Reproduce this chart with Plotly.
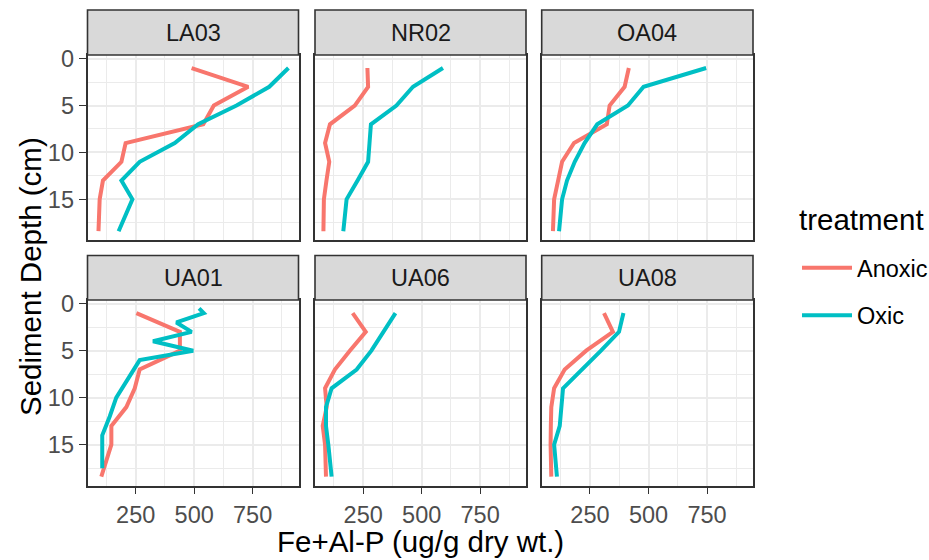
import plotly.graph_objects as go

# ---------------- data ----------------
sites = ["LA03", "NR02", "OA04", "UA01", "UA06", "UA08"]
treatments = ["Anoxic", "Oxic"]
colors = {"Anoxic": "#F8766D", "Oxic": "#00BFC4"}

depth_std = [1, 3, 5, 7, 9, 11, 13, 15, 18.4]
depth_ua01_oxic = [0.5, 1, 2, 3, 4, 5, 6, 8, 10, 12, 14, 17.5]

la03_anoxic = [489, 731, 584, 539, 207, 189, 110, 96, 91]
la03_oxic = [903, 821, 681, 517, 417, 267, 189, 236, 177]
nr02_anoxic = [268, 271, 214, 108, 87, 105, 93, 82, 80]
nr02_oxic = [591, 463, 392, 283, 277, 271, 226, 179, 165]
oa04_anoxic = [416, 398, 334, 322, 182, 131, 114, 97, 92]
oa04_oxic = [746, 479, 412, 281, 227, 185, 152, 131, 118]
ua01_anoxic = [253, 439, 439, 267, 246, 210, 146, 146, 103]
ua01_oxic = [521, 541, 424, 489, 324, 496, 267, 217, 167, 139, 107, 107]
ua06_anoxic = [205, 261, 193, 129, 87, 94, 77, 87, 91]
ua06_oxic = [388, 335, 285, 222, 115, 91, 91, 101, 115]
ua08_anoxic = [310, 348, 234, 142, 97, 85, 83, 82, 85]
ua08_oxic = [393, 374, 297, 214, 135, 128, 121, 97, 109]

series = {
    "LA03": {"Anoxic": (depth_std, la03_anoxic), "Oxic": (depth_std, la03_oxic)},
    "NR02": {"Anoxic": (depth_std, nr02_anoxic), "Oxic": (depth_std, nr02_oxic)},
    "OA04": {"Anoxic": (depth_std, oa04_anoxic), "Oxic": (depth_std, oa04_oxic)},
    "UA01": {"Anoxic": (depth_std, ua01_anoxic), "Oxic": (depth_ua01_oxic, ua01_oxic)},
    "UA06": {"Anoxic": (depth_std, ua06_anoxic), "Oxic": (depth_std, ua06_oxic)},
    "UA08": {"Anoxic": (depth_std, ua08_anoxic), "Oxic": (depth_std, ua08_oxic)},
}

x_ticks = [250, 500, 750]
x_minor = [125, 375, 625, 875]
y_ticks = [0, 5, 10, 15]
y_minor = [2.5, 7.5, 12.5, 17.5]

# ---------------- layout geometry ----------------
W, H = 929, 560
col_px = [(87.5, 298.5), (315.0, 526.0), (541.7, 753.0)]
row_px = [(55.0, 240.0), (300.0, 485.5)]       # panel top/bottom
strip_px = [(10.0, 55.0), (255.5, 300.0)]      # strip top/bottom

FONT = "Liberation Sans, Arial, sans-serif"
fig = go.Figure()

for i, site in enumerate(sites):
    r, c = divmod(i, 3)
    ax = "" if i == 0 else str(i + 1)
    for t in treatments:
        d, v = series[site][t]
        fig.add_trace(go.Scatter(
            x=v, y=d, mode="lines", name=t,
            line=dict(color=colors[t], width=4),
            legendgroup=t, showlegend=(i == 0),
            xaxis="x" + ax, yaxis="y" + ax,
        ))
    x0, x1 = col_px[c]
    y0, y1 = row_px[r]
    bottom = (r == 1)
    left = (c == 0)
    fig.layout["xaxis" + ax] = dict(
        domain=[x0 / W, x1 / W], anchor="y" + ax,
        range=[44, 946], tickvals=x_ticks,
        showticklabels=bottom, ticks="outside" if bottom else "",
        ticklen=7, tickwidth=1.4, tickcolor="#333333",
        tickfont=dict(family=FONT, size=23.5, color="#4D4D4D"),
        showgrid=True, gridcolor="#EBEBEB", gridwidth=1.5,
        minor=dict(tickvals=x_minor, showgrid=True, gridcolor="#EBEBEB", gridwidth=0.8, ticks=""),
        showline=True, mirror=True, linecolor="#333333", linewidth=1.6,
        zeroline=False, fixedrange=True, automargin=False,
    )
    fig.layout["yaxis" + ax] = dict(
        domain=[1 - y1 / H, 1 - y0 / H], anchor="x" + ax,
        range=[19.34, -0.39], tickvals=y_ticks,
        showticklabels=left, ticks="outside" if left else "",
        ticklen=7, tickwidth=1.4, tickcolor="#333333",
        tickfont=dict(family=FONT, size=23.5, color="#4D4D4D"),
        showgrid=True, gridcolor="#EBEBEB", gridwidth=1.5,
        minor=dict(tickvals=y_minor, showgrid=True, gridcolor="#EBEBEB", gridwidth=0.8, ticks=""),
        showline=True, mirror=True, linecolor="#333333", linewidth=1.6,
        zeroline=False, fixedrange=True, automargin=False,
    )
    # strip
    s0, s1 = strip_px[r]
    fig.add_shape(type="rect", xref="paper", yref="paper",
                  x0=x0 / W, x1=x1 / W, y0=1 - s1 / H, y1=1 - s0 / H,
                  fillcolor="#D9D9D9", line=dict(color="#333333", width=1.6), layer="above")
    fig.add_annotation(text=site, xref="paper", yref="paper",
                       x=(x0 + x1) / 2 / W, y=1 - (s0 + s1) / 2 / H,
                       showarrow=False, xanchor="center", yanchor="middle",
                       font=dict(family=FONT, size=23.5, color="#1A1A1A"))

# axis titles
fig.add_annotation(text="Fe+Al-P (ug/g dry wt.)", xref="paper", yref="paper",
                   x=(87.5 + 753.0) / 2 / W, y=1 - 541 / H, showarrow=False,
                   xanchor="center", yanchor="middle",
                   font=dict(family=FONT, size=29.5, color="#000000"))
fig.add_annotation(text="Sediment Depth (cm)", xref="paper", yref="paper",
                   x=30 / W, y=1 - 277 / H, showarrow=False, textangle=-90,
                   xanchor="center", yanchor="middle",
                   font=dict(family=FONT, size=29.5, color="#000000"))
# legend title
fig.add_annotation(text="treatment", xref="paper", yref="paper",
                   x=797 / W, y=1 - 220 / H, showarrow=False,
                   xanchor="left", yanchor="middle",
                   font=dict(family=FONT, size=29.5, color="#000000"))

fig.update_layout(
    width=W, height=H,
    margin=dict(l=0, r=0, t=0, b=0, autoexpand=False),
    paper_bgcolor="white", plot_bgcolor="white",
    legend=dict(
        font=dict(family=FONT, size=23.5, color="#000000"),
        x=797 / W, y=1 - 246 / H, xanchor="left", yanchor="top",
        tracegroupgap=14, bgcolor="rgba(0,0,0,0)", itemwidth=50,
    ),
)

fig.write_html("out.html", config={"displayModeBar": False},
               post_script="document.body.style.margin='0px';")
